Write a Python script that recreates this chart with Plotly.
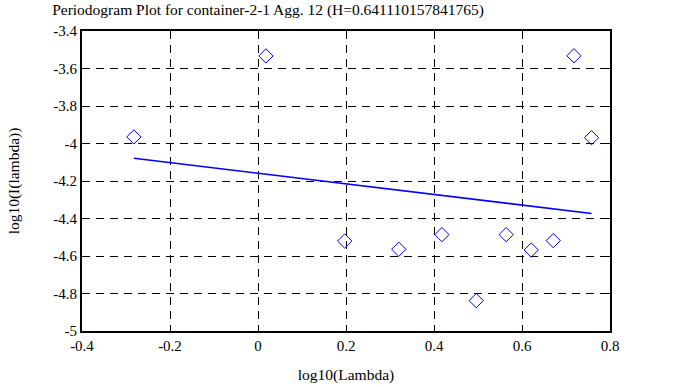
import plotly.graph_objects as go

# Data
log_lambda = [-0.282, 0.018, 0.197, 0.320, 0.418, 0.496, 0.564, 0.621, 0.671, 0.718, 0.758]
log_I = [-3.965, -3.533, -4.520, -4.564, -4.486, -4.838, -4.486, -4.568, -4.518, -3.532, -3.969]
fit_x = [-0.282, 0.758]
fit_y = [-4.079, -4.373]

x_ticks = [-0.4, -0.2, 0, 0.2, 0.4, 0.6, 0.8]
x_ticktext = ["-0.4", "-0.2", "0", "0.2", "0.4", "0.6", "0.8"]
y_ticks = [-5, -4.8, -4.6, -4.4, -4.2, -4, -3.8, -3.6, -3.4]
y_ticktext = ["-5", "-4.8", "-4.6", "-4.4", "-4.2", "-4", "-3.8", "-3.6", "-3.4"]

title_text = "Periodogram Plot for container-2-1 Agg. 12 (H=0.641110157841765)"

fig = go.Figure()
fig.add_trace(go.Scatter(
    x=log_lambda, y=log_I, mode="markers",
    marker=dict(symbol="diamond-open", size=11, color="#0000ff", line=dict(width=1, color="#0000ff")),
    showlegend=False,
))
fig.add_trace(go.Scatter(
    x=fit_x, y=fit_y, mode="lines",
    line=dict(color="#0000ff", width=1.6),
    showlegend=False,
))

fam = "Liberation Serif, Times New Roman, serif"
font = dict(family=fam, size=15.5, color="black")
tick_font = dict(family=fam, size=15, color="black")
axis_common = dict(
    showline=True, linewidth=2, linecolor="black", mirror="ticks",
    ticks="inside", ticklen=5, tickwidth=1, tickcolor="black",
    showgrid=True, gridcolor="black", gridwidth=1, griddash="8px,6px",
    zeroline=False, tickfont=tick_font, automargin=False,
)

fig.update_layout(
    width=673, height=387,
    margin=dict(l=82, r=63, t=31, b=56, autoexpand=False),
    paper_bgcolor="white", plot_bgcolor="white",
    font=font,
    title=dict(text=title_text, x=268/673, xanchor="center", y=1 - 10/387, yanchor="middle",
               xref="container", yref="container", font=font, automargin=False),
    xaxis=dict(range=[-0.4, 0.8], tickvals=x_ticks, ticktext=x_ticktext,
               title=dict(text="log10(Lambda)", font=font, standoff=16), **axis_common),
    yaxis=dict(range=[-5, -3.4], tickvals=y_ticks, ticktext=y_ticktext,
               title=dict(text="log10(I(lambda))", font=font, standoff=30), **axis_common),
)

fig.write_html("out.html", config={"displayModeBar": False},
               post_script="document.body.style.margin='0';")
